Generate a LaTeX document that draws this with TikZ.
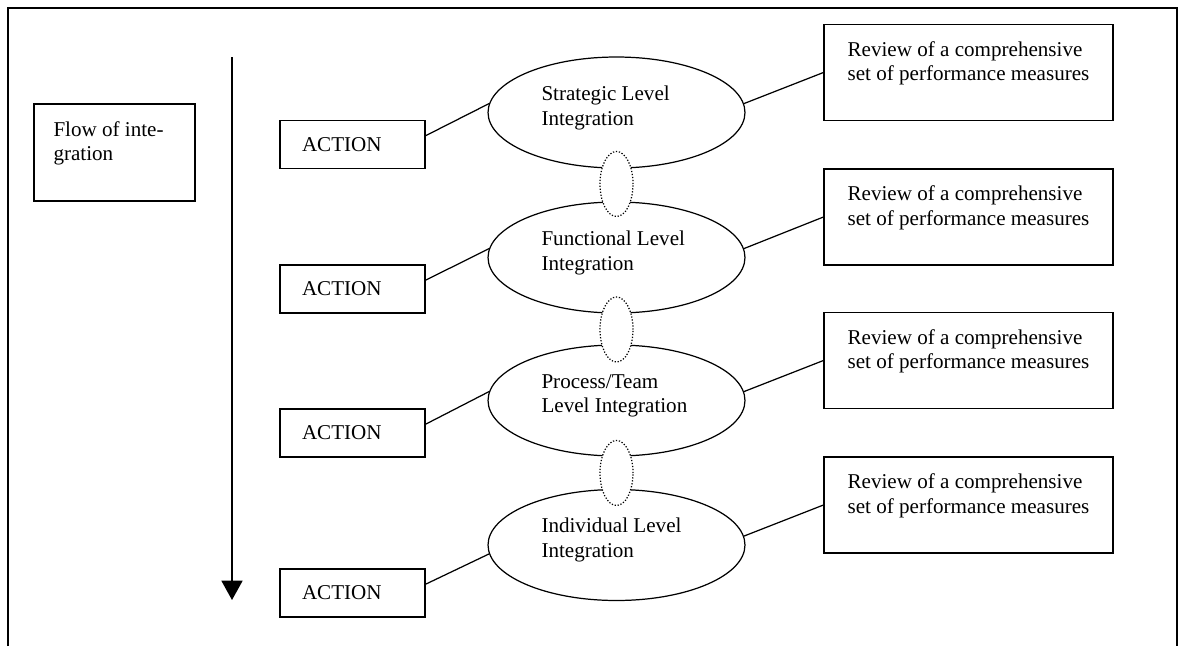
\documentclass[tikz,border=0pt]{standalone}
\usepackage{fontspec}
\setmainfont{Liberation Serif}
\usepackage{tikz}
\usetikzlibrary{shapes.geometric,arrows.meta}

% extra depth on the last line lifts the text block
\newcommand{\dropline}[1]{\rule[-#1]{0pt}{#1}}

\begin{document}
\begin{tikzpicture}[x=0.02cm, y=-0.02cm, line width=0.7pt,
    every node/.style={font=\fontsize{12}{14}\selectfont},
    textbox/.style={draw, rectangle, align=flush left, inner ysep=0pt},
    actionbox/.style={textbox, minimum width=2.9cm, minimum height=0.96cm, text width=2.02cm, inner xsep=0.44cm},
    reviewbox/.style={textbox, minimum width=5.78cm, minimum height=1.92cm},
    level/.style={draw, ellipse, minimum width=5.14cm, minimum height=2.22cm, inner sep=0pt, text width=3cm, align=flush left},
    link/.style={draw, ellipse, densely dotted, fill=white, minimum width=0.66cm, minimum height=1.3cm, inner sep=0pt}]
    \useasboundingbox (0,0) rectangle (1179,646);

    % outer frame (open at the bottom)
    \draw[line width=1.1pt] (8,646) -- (8,8) -- (1177,8) -- (1177,646);

    % flow of integration
    \node[textbox, minimum width=3.22cm, minimum height=1.94cm, text width=2.44cm, inner xsep=0.39cm] (flow) at (114.5,152.5) {Flow of inte-\\gration\dropline{12.8pt}};
    \coordinate (flowtop) at (232,57);
    \coordinate (flowend) at (232,600);
    \draw[-{Triangle[width=12pt,length=11pt]}] (flowtop) -- (flowend);

    % action boxes
    \node[actionbox] (act1) at (352.5,144.5) {ACTION};
    \node[actionbox] (act2) at (352.5,289) {ACTION};
    \node[actionbox] (act3) at (352.5,433) {ACTION};
    \node[actionbox] (act4) at (352.5,593) {ACTION};

    % integration levels
    \node[level] (lev1) at (616.5,112.5) {Strategic Level\\Integration\dropline{8pt}};
    \node[level] (lev2) at (616.5,257.5) {Functional Level\\Integration\dropline{8pt}};
    \node[level] (lev3) at (616.5,400.5) {Process/Team\\Level Integration\dropline{8pt}};
    \node[level] (lev4) at (616.5,545) {Individual Level\\Integration\dropline{8pt}};

    % dotted links between levels
    \node[link] (link12) at (616.5,184) {};
    \node[link] (link23) at (616.5,329.5) {};
    \node[link] (link34) at (616.5,473) {};

    % review boxes
    \node[reviewbox] (rev1) at (968.5,72.5) {Review of a comprehensive\\set of performance measures\dropline{12.8pt}};
    \node[reviewbox] (rev2) at (968.5,217) {Review of a comprehensive\\set of performance measures\dropline{12.8pt}};
    \node[reviewbox] (rev3) at (968.5,360.5) {Review of a comprehensive\\set of performance measures\dropline{12.8pt}};
    \node[reviewbox] (rev4) at (968.5,505) {Review of a comprehensive\\set of performance measures\dropline{12.8pt}};

    % connections
    \draw ([yshift=5pt]act1.east) -- (lev1.176);
    \draw ([yshift=5pt]act2.east) -- (lev2.176);
    \draw ([yshift=5pt]act3.east) -- (lev3.176);
    \draw ([yshift=5pt]act4.east) -- (lev4.184);
    \draw (lev1.4) -- (rev1.west);
    \draw (lev2.4) -- (rev2.west);
    \draw (lev3.4) -- (rev3.west);
    \draw (lev4.4) -- (rev4.west);
\end{tikzpicture}
\end{document}
